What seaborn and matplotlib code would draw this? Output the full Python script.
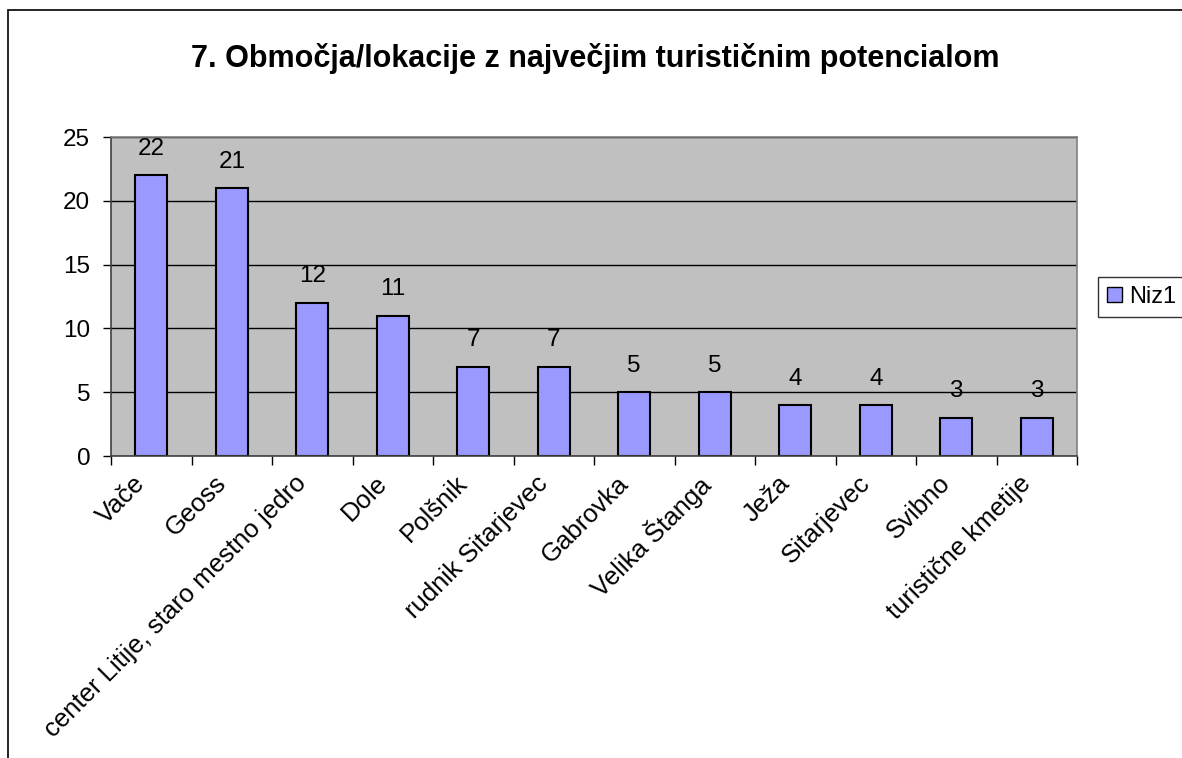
import numpy as np
import pandas as pd
import matplotlib
matplotlib.use("Agg")
import matplotlib.pyplot as plt
import matplotlib.transforms as mtransforms
import seaborn as sns
from matplotlib.patches import Rectangle, Patch

# podatki
kategorije = ["Vače", "Geoss", "center Litije, staro mestno jedro", "Dole",
              "Polšnik", "rudnik Sitarjevec", "Gabrovka", "Velika Štanga",
              "Ježa", "Sitarjevec", "Svibno", "turistične kmetije"]
vrednosti = [22, 21, 12, 11, 7, 7, 5, 5, 4, 4, 3, 3]
naslov = "7. Območja/lokacije z največjim turističnim potencialom"
serija = "Niz1"

df = pd.DataFrame({"lokacija": kategorije, "stevilo": vrednosti})

sns.set_style("white")
plt.rcParams["font.family"] = ["Liberation Sans", "DejaVu Sans"]
plt.rcParams["text.color"] = "black"
plt.rcParams["xtick.color"] = "black"
plt.rcParams["ytick.color"] = "black"

fig = plt.figure(figsize=(11.82, 7.58), dpi=100)
ax = fig.add_axes([111 / 1182, 1 - 456 / 758, (1077 - 111) / 1182, (456 - 137) / 758])

sns.barplot(data=df, x="lokacija", y="stevilo", color="#9999FF",
            saturation=1, edgecolor="black", linewidth=1.5, width=0.4, ax=ax)

ax.set_facecolor("#C0C0C0")
ax.set_ylim(0, 25)
ax.set_xlim(-0.5, len(kategorije) - 0.5)
ax.set_yticks(np.arange(0, 26, 5))
ax.yaxis.grid(True, color="black", linewidth=1)
ax.set_axisbelow(True)
ax.set_xlabel("")
ax.set_ylabel("")

# oznake vrednosti
for i, v in enumerate(vrednosti):
    ax.annotate(str(v), (i, v), xytext=(0, 19), textcoords="offset points",
                ha="center", va="center", fontsize=17.5)

# osi
ax.set_xticks(range(len(kategorije)))
ax.set_xticklabels(kategorije, rotation=45, ha="right", rotation_mode="anchor",
                   fontsize=18.5)
ax.set_xticks(np.arange(-0.5, len(kategorije), 1), minor=True)
ax.tick_params(axis="x", which="major", length=0, pad=8)
ax.tick_params(axis="x", which="minor", length=6.5, width=1, color="black",
               direction="out", bottom=True)
ax.tick_params(axis="y", length=6, width=1, color="black", direction="out",
               left=True, labelsize=17.5, pad=9)

# premik oznak na x osi (levo)
premik = mtransforms.ScaledTranslation(-18 / 100, -4 / 100, fig.dpi_scale_trans)
for lbl in ax.get_xticklabels():
    lbl.set_transform(lbl.get_transform() + premik)

for s in ["top", "right"]:
    ax.spines[s].set_color("#808080")
    ax.spines[s].set_linewidth(1.2)
for s in ["left", "bottom"]:
    ax.spines[s].set_color("#404040")
    ax.spines[s].set_linewidth(1.2)

# naslov
fig.text(595 / 1182, 1 - 58 / 758, naslov, ha="center", va="center",
         fontsize=22, fontweight="bold")

# legenda
fig.legend(handles=[Patch(facecolor="#9999FF", edgecolor="black", linewidth=1)],
           labels=[serija], loc="center left", bbox_to_anchor=(1098 / 1182, 1 - 297 / 758),
           fontsize=17, frameon=True, fancybox=False, edgecolor="black",
           handlelength=0.6, handleheight=0.6, handletextpad=0.3,
           borderpad=0.4, borderaxespad=0)

# okvir grafikona
fig.patches.append(Rectangle((8 / 1182, -0.1), 1.2, 1 - 10 / 758 + 0.1,
                             transform=fig.transFigure, fill=False,
                             edgecolor="black", linewidth=1.2))

fig.savefig("out.png", dpi=100)
